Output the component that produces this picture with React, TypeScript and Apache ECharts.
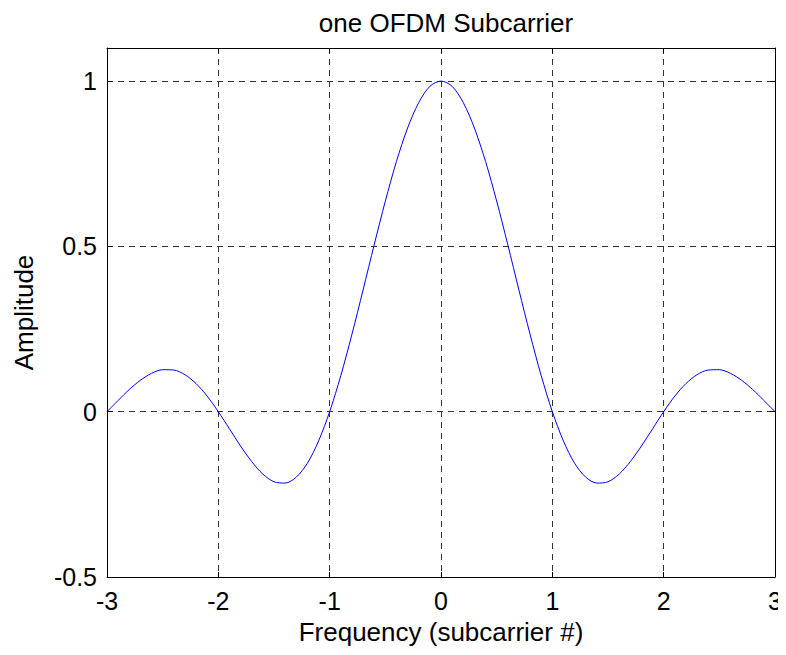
import React, { useEffect, useRef } from "react";
import * as echarts from "echarts";

const titleText = "one OFDM Subcarrier";
const xName = "Frequency (subcarrier #)";
const yName = "Amplitude";

// Subcarrier frequency offsets (subcarrier spacing units)
const frequency = [
  -3.0, -2.9, -2.8, -2.7, -2.6, -2.5, -2.4, -2.3, -2.2, -2.1,
  -2.0, -1.9, -1.8, -1.7, -1.6, -1.5, -1.4, -1.3, -1.2, -1.1,
  -1.0, -0.9, -0.8, -0.7, -0.6, -0.5, -0.4, -0.3, -0.2, -0.1,
  0.0, 0.1, 0.2, 0.3, 0.4, 0.5, 0.6, 0.7, 0.8, 0.9,
  1.0, 1.1, 1.2, 1.3, 1.4, 1.5, 1.6, 1.7, 1.8, 1.9,
  2.0, 2.1, 2.2, 2.3, 2.4, 2.5, 2.6, 2.7, 2.8, 2.9, 3.0,
];

// Spectrum amplitude of a single subcarrier
const amplitude = [
  0.0, 0.034, 0.067, 0.095, 0.116, 0.127, 0.126, 0.112, 0.085, 0.047,
  0.0, -0.052, -0.104, -0.151, -0.189, -0.212, -0.216, -0.198, -0.156, -0.089,
  0.0, 0.109, 0.234, 0.368, 0.505, 0.637, 0.757, 0.858, 0.935, 0.984,
  1.0, 0.984, 0.935, 0.858, 0.757, 0.637, 0.505, 0.368, 0.234, 0.109,
  0.0, -0.089, -0.156, -0.198, -0.216, -0.212, -0.189, -0.151, -0.104, -0.052,
  0.0, 0.047, 0.085, 0.112, 0.126, 0.127, 0.116, 0.095, 0.067, 0.034, 0.0,
];

const xTicks = { min: -3, max: 3, interval: 1 };
const yTicks = { min: -0.5, max: 1.1, interval: 0.5 };

const FONT = "'Liberation Sans', Arial, Helvetica, sans-serif";

export default function App() {
  const ref = useRef<HTMLDivElement>(null);

  useEffect(() => {
    if (!ref.current) return;
    const chart = echarts.init(ref.current, null, { renderer: "svg" });

    const dashed = { show: true, lineStyle: { color: "#333", type: [6, 5], width: 1 } };
    const axisLine = { show: true, onZero: false, lineStyle: { color: "#000", width: 1 } };
    const tick = { show: true, inside: true, length: 5, lineStyle: { color: "#000" } };
    const yFormatter = (v: number) => (Math.abs(v - yTicks.max) < 1e-9 ? "" : String(v));
    const labelStyle = { fontFamily: FONT, fontSize: 25, color: "#000" };
    const nameStyle = { fontFamily: FONT, fontSize: 26, color: "#000" };

    chart.setOption({
      animation: false,
      backgroundColor: "#fff",
      title: {
        text: titleText,
        left: 441,
        textAlign: "center",
        top: 5,
        textStyle: { ...nameStyle, fontWeight: "normal" },
      },
      grid: { left: 107, right: 11, top: 48, bottom: 78 },
      xAxis: [
        {
          type: "value",
          position: "bottom",
          min: xTicks.min,
          max: xTicks.max,
          interval: xTicks.interval,
          name: xName,
          nameLocation: "middle",
          nameGap: 42,
          nameTextStyle: nameStyle,
          axisLine,
          axisTick: tick,
          axisLabel: { ...labelStyle, margin: 11 },
          splitLine: dashed,
        },
        {
          type: "value",
          position: "top",
          min: xTicks.min,
          max: xTicks.max,
          interval: xTicks.interval,
          axisLine,
          axisTick: tick,
          axisLabel: { show: false },
          splitLine: { show: false },
        },
      ],
      yAxis: [
        {
          type: "value",
          position: "left",
          min: yTicks.min,
          max: yTicks.max,
          interval: yTicks.interval,
          name: yName,
          nameLocation: "middle",
          nameGap: 70,
          nameTextStyle: nameStyle,
          axisLine,
          axisTick: tick,
          axisLabel: { ...labelStyle, margin: 10, formatter: yFormatter },
          splitLine: dashed,
        },
        {
          type: "value",
          position: "right",
          min: yTicks.min,
          max: yTicks.max,
          interval: yTicks.interval,
          axisLine,
          axisTick: tick,
          axisLabel: { show: false },
          splitLine: { show: false },
        },
      ],
      series: [
        {
          type: "line",
          data: frequency.map((f, i) => [f, amplitude[i]]),
          smooth: 0.3,
          showSymbol: false,
          lineStyle: { color: "#0000ff", width: 1 },
          z: 3,
        },
      ],
    });

    return () => chart.dispose();
  }, []);

  return <div ref={ref} style={{ width: 786, height: 655, margin: -8 }} />;
}
